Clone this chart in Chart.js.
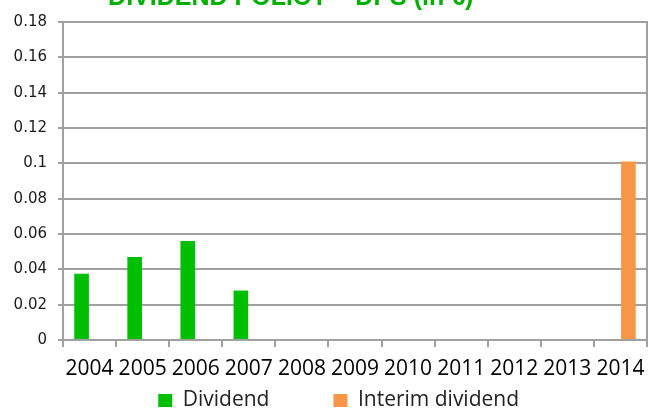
<!DOCTYPE html>
<html>
<head>
  <meta charset="utf-8">
  <title>Dividend policy - DPS</title>
  <script src="https://cdn.jsdelivr.net/npm/chart.js"></script>
  <style>
    html, body { margin: 0; padding: 0; background: #fff; overflow: hidden; }
    #wrap { position: absolute; left: 0; top: -17px; width: 651px; height: 438px; }
  </style>
</head>
<body>
  <div id="wrap"><canvas id="chart"></canvas></div>

  <script>
    // chart data
    const years = ["2004", "2005", "2006", "2007", "2008", "2009", "2010", "2011", "2012", "2013", "2014"];
    const dividend = [0.0375, 0.047, 0.056, 0.028, null, null, null, null, null, null, null];
    const interim = [null, null, null, null, null, null, null, null, null, null, 0.101];
    const seriesNames = ["Dividend", "Interim dividend"];
    const titleText = "DIVIDEND POLICY \u2013 DPS (in \u20ac)";

    const grey = "#a0a0a0";
    const nbsp = n => "\u00a0".repeat(n);
    const legendPad = [nbsp(11), nbsp(6)]; // spreads the legend items like the original

    new Chart(document.getElementById("chart"), {
      type: "bar",
      data: {
        labels: years,
        datasets: [
          { label: seriesNames[0], data: dividend, backgroundColor: "#00bf00" },
          { label: seriesNames[1], data: interim, backgroundColor: "#f79646" }
        ]
      },
      options: {
        responsive: true,
        maintainAspectRatio: false,
        animation: false,
        categoryPercentage: 0.6,
        barPercentage: 0.92,
        layout: { padding: 0 },
        plugins: {
          tooltip: { enabled: false },
          title: {
            display: true,
            text: titleText + nbsp(10),
            color: "#00b000",
            font: { family: "Liberation Sans", size: 25, weight: "bold" },
            padding: { top: 0, bottom: 9 }
          },
          legend: {
            position: "bottom",
            fullSize: false,
            labels: {
              font: { family: "Open Sans", size: 21 },
              color: "#222",
              boxWidth: 14,
              boxHeight: 13,
              padding: 4,
              generateLabels: chart =>
                Chart.defaults.plugins.legend.labels.generateLabels(chart)
                  .map((it, i) => ({ ...it, text: it.text + legendPad[i] }))
            }
          }
        },
        scales: {
          x: {
            grid: { offset: true, drawOnChartArea: false, drawTicks: true, tickLength: 7, color: grey, lineWidth: 2 },
            border: { color: grey, width: 2 },
            ticks: {
              // tall line height pushes the labels down without adding side padding
              font: { family: "Open Sans", size: 21, lineHeight: 1.9 },
              color: "#000",
              autoSkip: false,
              maxRotation: 0,
              padding: 2
            },
            afterFit: s => { s.height = 46; }
          },
          y: {
            min: 0,
            max: 0.18,
            grid: { color: grey, lineWidth: 2, tickLength: 5 },
            border: { color: grey, width: 2 },
            ticks: {
              stepSize: 0.02,
              font: { family: "DejaVu Sans", size: 15 },
              color: "#1a1a1a",
              padding: 11,
              callback: v => String(+v.toFixed(2))
            },
            afterFit: s => { s.width = 63; }
          },
          // right frame of the plot area
          y2: {
            position: "right",
            min: 0,
            max: 1,
            grid: { display: false },
            ticks: { display: false },
            border: { display: true, color: grey, width: 2 },
            afterFit: s => { s.width = 4; }
          }
        }
      }
    });
  </script>
</body>
</html>
